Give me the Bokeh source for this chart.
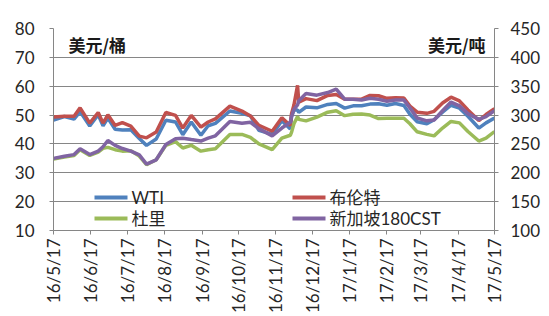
import math
from datetime import datetime
from bokeh.plotting import figure
from bokeh.models import Range1d, LinearAxis, FixedTicker, Label, BoxAnnotation
from bokeh.embed import file_html
from bokeh.resources import INLINE

# ---------------- data ----------------
dates = ["2016-05-17", "2016-05-26", "2016-06-03", "2016-06-08", "2016-06-16", "2016-06-23",
         "2016-06-27", "2016-07-01", "2016-07-07", "2016-07-13", "2016-07-20", "2016-07-27",
         "2016-08-02", "2016-08-10", "2016-08-18", "2016-08-26", "2016-09-01", "2016-09-08",
         "2016-09-16", "2016-09-22", "2016-09-28", "2016-10-10", "2016-10-20", "2016-10-27",
         "2016-11-03", "2016-11-14", "2016-11-22", "2016-11-29", "2016-11-30", "2016-12-02",
         "2016-12-05", "2016-12-06", "2016-12-12", "2016-12-21", "2016-12-30", "2017-01-06",
         "2017-01-13", "2017-01-20", "2017-01-27", "2017-02-03", "2017-02-10", "2017-02-17",
         "2017-02-24", "2017-03-03", "2017-03-08", "2017-03-14", "2017-03-22", "2017-03-28",
         "2017-04-04", "2017-04-11", "2017-04-18", "2017-04-25", "2017-05-04", "2017-05-10",
         "2017-05-17"]

wti = [48.3, 49.5, 48.6, 51.2, 46.2, 50.1, 46.3, 49.0, 45.1, 44.8,
       44.9, 41.9, 39.5, 41.7, 48.2, 47.6, 43.2, 47.6, 43.0, 46.3,
       47.1, 51.4, 50.6, 49.7, 44.7, 43.3, 48.0, 45.2, 49.4, 51.7,
       51.8, 50.9, 52.8, 52.5, 53.7, 54.0, 52.4, 53.2, 53.2, 53.8,
       53.9, 53.4, 54.0, 53.3, 50.3, 47.7, 47.0, 48.4, 51.0, 53.4,
       52.4, 49.6, 45.5, 47.3, 49.0]

brent = [49.3, 49.6, 49.6, 52.5, 47.2, 50.9, 47.2, 50.1, 46.4, 47.4,
         46.2, 42.7, 42.1, 44.1, 50.9, 49.9, 45.5, 49.9, 45.8, 47.6,
         48.7, 53.1, 51.4, 49.7, 46.4, 44.4, 49.1, 46.4, 50.5, 53.5,
         60.3, 54.5, 55.7, 55.0, 56.8, 57.1, 55.5, 55.5, 55.5, 56.8,
         56.7, 55.8, 56.0, 55.9, 53.1, 51.0, 50.6, 51.3, 54.2, 56.2,
         54.9, 51.8, 48.1, 50.2, 52.2]

duri = [34.8, 35.5, 36.0, 38.0, 36.0, 37.2, 38.5, 38.8, 38.0, 37.5,
        37.6, 35.8, 32.8, 34.5, 39.5, 40.8, 38.6, 39.5, 37.5, 38.0,
        38.3, 43.3, 43.3, 42.3, 40.0, 38.0, 42.0, 43.0, 44.0, 47.0,
        49.5, 48.5, 48.0, 49.3, 51.0, 51.5, 49.8, 50.3, 50.4, 50.0,
        48.8, 48.9, 48.9, 48.9, 47.0, 44.2, 43.3, 42.8, 45.5, 47.8,
        47.3, 44.3, 41.0, 42.0, 44.3]

sg180 = [225, 228.5, 231.5, 241.5, 231.5, 237.5, 245, 256, 247.5, 242,
         237.5, 231, 215, 222.5, 249, 259, 260, 257.5, 255, 260,
         264, 289, 286, 287.5, 276.5, 264, 277.5, 287.5, 297.5, 310,
         317.5, 325, 337.5, 334.5, 339, 345, 327.5, 327.5, 326, 329,
         327.5, 324, 326, 326, 312.5, 295, 290, 291.5, 307.5, 322.5,
         316, 302.5, 292.5, 297.5, 307.5]

month_labels = ["16/5/17", "16/6/17", "16/7/17", "16/8/17", "16/9/17", "16/10/17", "16/11/17",
                "16/12/17", "17/1/17", "17/2/17", "17/3/17", "17/4/17", "17/5/17"]
left_ticks = [10, 20, 30, 40, 50, 60, 70, 80]
right_ticks = [100, 150, 200, 250, 300, 350, 400, 450]

series_names = ["WTI", "布伦特", "杜里", "新加坡180CST"]
colors = ["#4f81bd", "#c0504d", "#9bbb59", "#8064a2"]

# ---------------- build ----------------
start = datetime(2016, 5, 17)
days = [(datetime.strptime(d, "%Y-%m-%d") - start).days for d in dates]
tick_days = [(datetime.strptime(s, "%y/%m/%d") - start).days for s in month_labels]

FONT = "Lato, 'Noto Sans CJK SC'"
GRAY = "#868686"
TEXT = "#262626"

p = figure(width=549, height=316, output_backend="svg", toolbar_location=None,
           x_range=Range1d(tick_days[0], tick_days[-1]),
           y_range=Range1d(left_ticks[0], left_ticks[-1]),
           min_border_left=53, min_border_right=55, min_border_top=28, min_border_bottom=84)
p.extra_y_ranges = {"right": Range1d(right_ticks[0], right_ticks[-1])}
p.add_layout(LinearAxis(y_range_name="right"), "right")

p.outline_line_color = None
p.background_fill_color = "white"
p.border_fill_color = "white"

for ax in p.axis:
    ax.axis_line_color = GRAY
    ax.major_tick_line_color = GRAY
    ax.minor_tick_line_color = None
    ax.major_tick_out = 4
    ax.major_tick_in = 0
    ax.major_label_text_font = FONT
    ax.major_label_text_font_size = "17px"
    ax.major_label_text_color = TEXT

p.yaxis[0].ticker = FixedTicker(ticks=left_ticks)
p.yaxis[0].major_label_standoff = 15
p.yaxis[1].ticker = FixedTicker(ticks=right_ticks)
p.yaxis[1].major_label_standoff = 12

p.xaxis.ticker = FixedTicker(ticks=tick_days)
p.xaxis.major_label_overrides = {d: s for d, s in zip(tick_days, month_labels)}
p.xaxis.major_label_orientation = math.pi / 2
p.xaxis.major_label_standoff = 4

p.xgrid.visible = False
p.ygrid.ticker = FixedTicker(ticks=left_ticks)
p.ygrid.grid_line_color = GRAY
p.ygrid.grid_line_width = 1

r_wti = p.line(days, wti, color=colors[0], line_width=3.5)
r_brent = p.line(days, brent, color=colors[1], line_width=3.5)
r_duri = p.line(days, duri, color=colors[2], line_width=3.5)
r_sg = p.line(days, sg180, color=colors[3], line_width=3.5, y_range_name="right")

# legend (two columns x two rows) drawn as key swatches + labels, in screen px relative to the frame
legend_cols = [41, 239]   # left edge of key swatch in each column
legend_rows = [33, 12]    # row centre above the frame bottom
legend_slots = [(0, 0), (1, 0), (0, 1), (1, 1)]  # (col, row) for WTI, 布伦特, 杜里, 新加坡180CST
for name, col, (ci, ri) in zip(series_names, colors, legend_slots):
    x0 = legend_cols[ci]
    yc = legend_rows[ri]
    p.add_layout(BoxAnnotation(left=x0, right=x0 + 33, top=yc + 2, bottom=yc - 2,
                               left_units="screen", right_units="screen",
                               top_units="screen", bottom_units="screen",
                               fill_color=col, fill_alpha=1, line_color=None))
    p.add_layout(Label(x=x0 + 37, y=yc, x_units="screen", y_units="screen", text=name,
                       text_font=FONT, text_font_size="17px", text_color=TEXT,
                       text_baseline="middle", text_align="left"))

unit_font = "'Noto Sans CJK SC'"
p.add_layout(Label(x=15, y=186, x_units="screen", y_units="screen", text="美元/桶",
                   text_font=unit_font, text_font_size="17px", text_font_style="bold",
                   text_baseline="middle", text_align="left", text_color="#1a1a1a"))
p.add_layout(Label(x=432, y=186, x_units="screen", y_units="screen", text="美元/吨",
                   text_font=unit_font, text_font_size="17px", text_font_style="bold",
                   text_baseline="middle", text_align="right", text_color="#1a1a1a"))

open("out.html", "w").write(file_html(p, INLINE))
